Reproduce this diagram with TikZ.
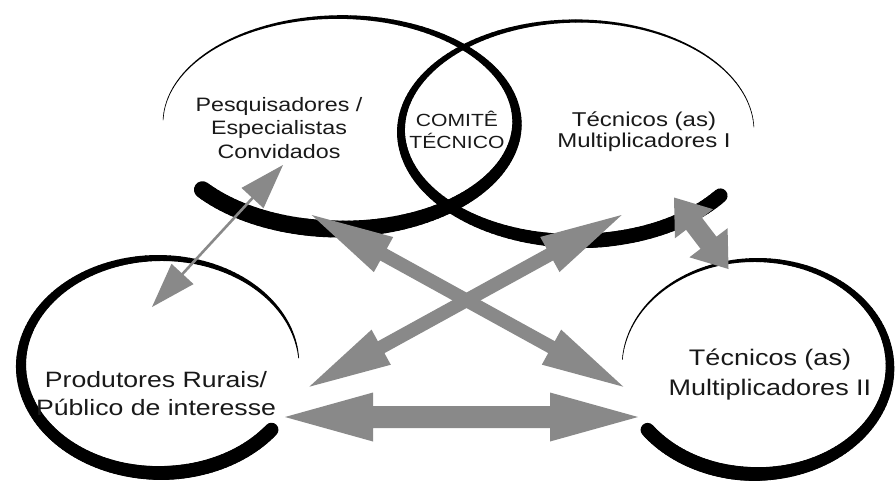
\documentclass[tikz,border=0pt]{standalone}
\usepackage{fontspec}
\setmainfont{Liberation Sans}[FakeStretch=1.2]
\usetikzlibrary{calc}
\definecolor{arrowgray}{RGB}{137,137,137}
% brush-like open ellipse: cx, cy, a, b, t0, t1, max width, exponent
\newcommand\brushell[8]{%
  \pgfmathsetmacro\dtt{(#6-#5)/160}%
  \foreach \i in {0,...,159}{%
    \pgfmathsetmacro\ta{#5+\dtt*\i}%
    \pgfmathsetmacro\tb{#5+\dtt*(\i+1)}%
    \pgfmathsetmacro\ss{min(1,(\i+0.5)/136)}%
    \pgfmathsetmacro\ww{0.6+(#7-0.6)*exp(#8*ln(\ss))}%
    \draw[line width=\ww pt, line cap=round]
      ({#1+#3*cos(\ta)},{#2+#4*sin(\ta)}) -- ({#1+#3*cos(\tb)},{#2+#4*sin(\tb)});
  }}
% double block arrow: from, to, shaft half width, head length, head half width
\newcommand\blockarrow[5]{%
  \fill[arrowgray] (#1)
   -- ($(#1)!#4!(#2)!#5!90:(#2)$)
   -- ($(#1)!#4!(#2)!#3!90:(#2)$)
   -- ($(#2)!#4!(#1)!#3!-90:(#1)$)
   -- ($(#2)!#4!(#1)!#5!-90:(#1)$)
   -- (#2)
   -- ($(#2)!#4!(#1)!#5!90:(#1)$)
   -- ($(#2)!#4!(#1)!#3!90:(#1)$)
   -- ($(#1)!#4!(#2)!#3!-90:(#2)$)
   -- ($(#1)!#4!(#2)!#5!-90:(#2)$)
   -- cycle;}
\tikzset{
  label/.style={align=center, anchor=base, inner sep=0pt, text=black!90},
}
\begin{document}
\begin{tikzpicture}[x=1pt,y=-1pt]
\useasboundingbox (0,0) rectangle (896,480);
% brush ellipses
\brushell{340}{123}{177}{106}{181.6}{501}{17}{1.5}
\brushell{577.5}{131}{176.5}{110}{358}{36}{14.5}{1.5}
\brushell{160}{365.5}{139}{107.5}{356}{36.7}{14}{0.8}
\brushell{756}{367}{134}{107}{184}{504}{14}{1.2}
% arrow end points
\coordinate (pqA) at (283,165);
\coordinate (pqB) at (152,307);
\coordinate (d1A) at (311.7,215);
\coordinate (d1B) at (623.3,386.7);
\coordinate (d2A) at (621.7,215);
\coordinate (d2B) at (309.3,386.7);
\coordinate (hA) at (285,417);
\coordinate (hB) at (638,417);
\coordinate (trA) at (674,197.5);
\coordinate (trB) at (728.5,269);
% arrows
\blockarrow{pqA}{pqB}{1.3pt}{45pt}{15pt}
\blockarrow{d1A}{d1B}{6.8pt}{82pt}{20pt}
\blockarrow{d2A}{d2B}{6.8pt}{82pt}{20pt}
\blockarrow{hA}{hB}{11pt}{88pt}{24.5pt}
\blockarrow{trA}{trB}{10pt}{33pt}{24pt}
% labels (anchor = baseline of last line)
\node[label, font=\fontsize{19.4}{23.2}\selectfont] (pesq) at (279,158)
  {Pesquisadores /\\Especialistas\\Convidados};
\node[label, font=\fontsize{17.6}{21.3}\selectfont] (comite) at (457,148)
  {COMITÊ\\TÉCNICO};
\node[label, font=\fontsize{20}{20.5}\selectfont] (tec1) at (644,147)
  {Técnicos (as)\\Multiplicadores I};
\node[label, font=\fontsize{22.2}{28}\selectfont] (prod) at (156,415)
  {Produtores Rurais/\\Público de interesse};
\node[label, font=\fontsize{22.5}{30}\selectfont] (tec2) at (770,395)
  {Técnicos (as)\\Multiplicadores II};
\end{tikzpicture}
\end{document}
